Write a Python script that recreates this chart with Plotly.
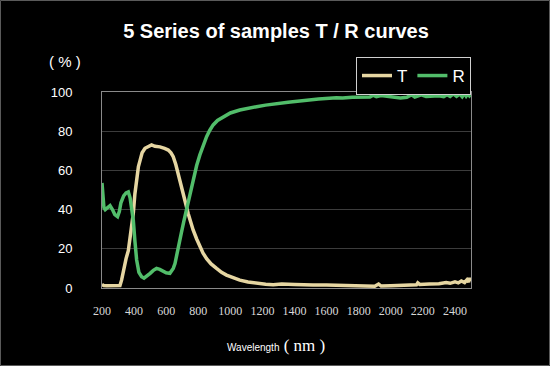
import plotly.graph_objects as go

# ---- data ----
t_nm = [200, 210, 230, 260, 290, 312, 322, 333, 350, 364, 380, 395, 405, 416, 427, 437,
        450, 468, 490, 509, 530, 561, 590, 613, 630, 644, 660, 675, 690, 706, 722, 737,
        752, 768, 790, 810, 830, 852, 880, 914, 945, 976, 1015, 1059, 1110, 1163, 1220,
        1267, 1320, 1400, 1450, 1515, 1600, 1700, 1785, 1850, 1900, 1924, 1940, 2000,
        2060, 2120, 2160, 2168, 2180, 2240, 2300, 2345, 2370, 2400, 2420, 2440, 2460,
        2475, 2485, 2490, 2495]
t_val = [1.8, 1.3, 1.2, 1.2, 1.2, 1.3, 4, 9, 15, 19, 28, 38, 48, 56.8, 62, 65,
         69, 71.3, 72.5, 73, 72.3, 72, 71.2, 70.4, 69, 67, 63, 58.5, 53.5, 48.3, 43, 38,
         33.5, 29.6, 25, 21, 17.8, 15, 12.3, 10, 8, 6.6, 5.2, 4, 3.1, 2.4, 1.9,
         1.7, 2.0, 1.8, 1.6, 1.5, 1.5, 1.4, 1.0, 0.8, 0.9, 2.0, 1.0, 1.1,
         1.2, 1.4, 1.6, 2.6, 1.8, 2.0, 2.2, 2.8, 2.4, 3.2, 2.6, 3.6, 2.8,
         4.2, 3.0, 5.2, 3.4]

r_nm = [200, 205, 212, 220, 235, 250, 265, 280, 297, 308, 318, 335, 350, 364, 375, 385,
        395, 405, 416, 430, 447, 462, 480, 500, 520, 540, 560, 582, 600, 623, 644, 655,
        665, 680, 694, 710, 726, 748, 768, 790, 810, 830, 852, 872, 893, 920, 955, 1000,
        1059, 1110, 1163, 1220, 1267, 1308, 1360, 1433, 1474, 1550, 1661, 1700, 1760,
        1820, 1870, 1890, 1910, 1940, 2000, 2034, 2060, 2100, 2130, 2150, 2168, 2190,
        2220, 2260, 2300, 2330, 2350, 2370, 2390, 2410, 2430, 2445, 2460, 2470, 2480,
        2490, 2495]
r_val = [53.6, 47, 41, 40, 41, 42, 40, 37.5, 36.4, 39, 43.5, 47, 48.5, 49, 46, 40,
         34.7, 24, 14.3, 8, 5.8, 5, 6, 7.5, 9, 10, 9.5, 8.5, 7.8, 7.5, 10, 12.5,
         16, 21.5, 27.9, 34, 40, 48.5, 56, 62.5, 67.9, 73, 77.2, 80.5, 83.2, 85.5, 87.4, 89.3,
         90.8, 91.8, 92.5, 93.3, 93.9, 94.2, 94.8, 95.4, 95.9, 96.4, 97.1, 97.0, 97.3,
         97.2, 97.4, 98.4, 97.6, 98.2, 97.5, 96.9, 97.0, 97.3, 98.6, 97.4, 97.8, 98.5,
         97.7, 97.9, 98.1, 97.6, 98.6, 97.7, 99.0, 97.8, 98.9, 97.6, 99.3, 97.9, 99.0,
         98.1, 98.6]

x_ticks = [200, 400, 600, 800, 1000, 1200, 1400, 1600, 1800, 2000, 2200, 2400]
y_ticks = [0, 20, 40, 60, 80, 100]

T_COLOR = "#e6d6a2"
R_COLOR = "#52bd6a"

fig = go.Figure()
fig.add_trace(go.Scatter(x=t_nm, y=t_val, mode="lines", name="T",
                         line=dict(color=T_COLOR, width=3.5)))
fig.add_trace(go.Scatter(x=r_nm, y=r_val, mode="lines", name="R",
                         line=dict(color=R_COLOR, width=3.5)))

fig.update_layout(
    width=550, height=366,
    margin=dict(l=102, r=79, t=92, b=78),
    paper_bgcolor="#000000", plot_bgcolor="#000000",
    title=dict(text="<b>5 Series of samples T / R curves</b>",
               x=276 / 550, xanchor="center", y=1 - 31 / 366, yanchor="middle",
               font=dict(family="Liberation Sans, Arial, sans-serif", size=20, color="#ffffff")),
    showlegend=True,
    legend=dict(orientation="h", x=1, xanchor="right", y=(288 - 57) / 196, yanchor="top",
                bgcolor="#000000", bordercolor="#d0d0d0", borderwidth=1,
                font=dict(family="Liberation Sans, Arial, sans-serif", size=17, color="#ffffff"),
                itemwidth=30, tracegroupgap=0),
    xaxis=dict(range=[200, 2500], tickvals=x_ticks, ticktext=[str(v) for v in x_ticks],
               showgrid=False, zeroline=False, showline=True, linecolor="#8a8a8a", linewidth=1,
               mirror=True, ticks="outside", ticklen=12, tickcolor="rgba(0,0,0,0)",
               tickfont=dict(family="Liberation Serif, Times New Roman, serif", size=12, color="#d8d8d8")),
    yaxis=dict(range=[0, 100], tickvals=y_ticks, showgrid=True, gridcolor="#3c3c3c", gridwidth=1,
               zeroline=False, showline=True, linecolor="#8a8a8a", linewidth=1, mirror=True,
               ticks="outside", ticklen=26, tickcolor="rgba(0,0,0,0)",
               tickfont=dict(family="Liberation Sans, Arial, sans-serif", size=13, color="#ffffff")),
)

fig.add_annotation(text="( % )", xref="paper", yref="paper",
                   x=(65 - 102) / 369, y=(288 - 62) / 196, xanchor="center", yanchor="middle",
                   showarrow=False,
                   font=dict(family="Liberation Sans, Arial, sans-serif", size=15, color="#ffffff"))
fig.add_annotation(
    text="<span style='font-family:Liberation Sans, Arial, sans-serif;font-size:10px'>Wavelength</span>"
         "<span style='font-family:Liberation Serif, serif;font-size:17px'> ( nm )</span>",
    xref="paper", yref="paper", x=(225 - 102) / 369, y=(288 - 345) / 196,
    xanchor="left", yanchor="middle", showarrow=False,
    font=dict(color="#ffffff", size=12))

# thin grey frame around the whole picture
fig.add_shape(type="rect", xref="paper", yref="paper",
              x0=(0.5 - 102) / 369, x1=(549.5 - 102) / 369,
              y0=(288 - 365.5) / 196, y1=(288 - 0.5) / 196,
              line=dict(color="#5a5a5a", width=1), layer="below")

fig.write_html("out.html", config={"displayModeBar": False},
               post_script="document.body.style.margin='0';document.body.style.padding='0';"
                           "document.body.style.background='#000';")
